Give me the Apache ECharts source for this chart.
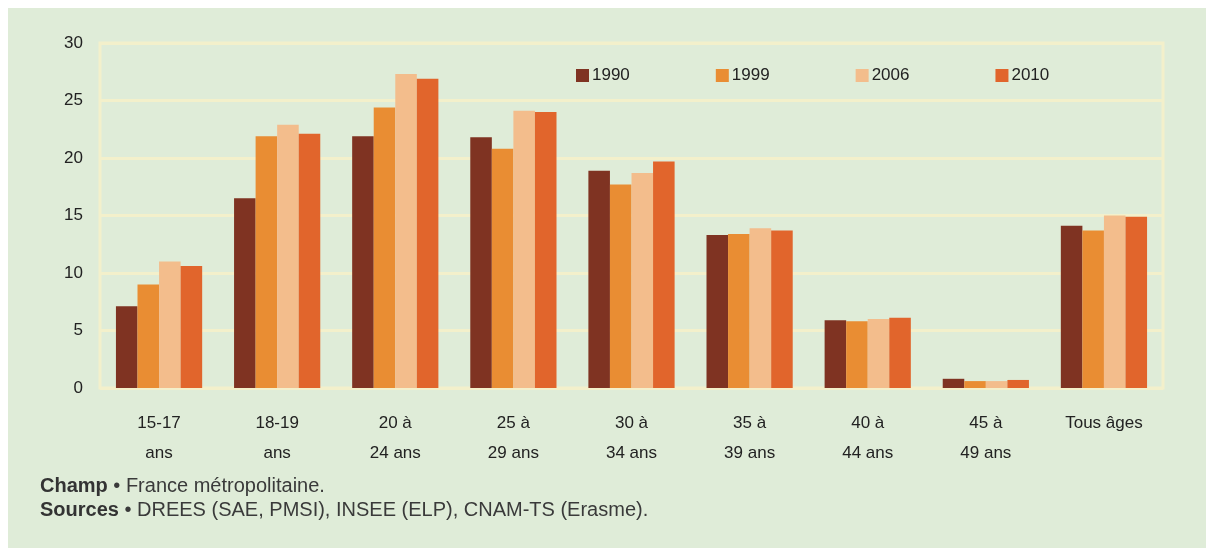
<!DOCTYPE html>
<html>
<head>
<meta charset="utf-8">
<script src="https://cdn.jsdelivr.net/npm/echarts@6/dist/echarts.min.js"></script>
<style>
html,body{margin:0;padding:0;background:#ffffff;}
#chart{width:1206px;height:550px;}
</style>
</head>
<body>
<div id="chart"></div>
<script>
const categories = ['15-17\nans', '18-19\nans', '20 à\n24 ans', '25 à\n29 ans', '30 à\n34 ans', '35 à\n39 ans', '40 à\n44 ans', '45 à\n49 ans', 'Tous âges'];
const seriesNames = ['1990', '1999', '2006', '2010'];
const v1990 = [7.1, 16.5, 21.9, 21.8, 18.9, 13.3, 5.9, 0.8, 14.1];
const v1999 = [9.0, 21.9, 24.4, 20.8, 17.7, 13.4, 5.8, 0.6, 13.7];
const v2006 = [11.0, 22.9, 27.3, 24.1, 18.7, 13.9, 6.0, 0.6, 15.0];
const v2010 = [10.6, 22.1, 26.9, 24.0, 19.7, 13.7, 6.1, 0.7, 14.9];
const yTicks = [0, 5, 10, 15, 20, 25, 30];
const colors = ['#7f3322', '#e98d33', '#f3bd8c', '#e1652c'];
const values = [v1990, v1999, v2006, v2010];

const FONT = "'Liberation Sans Narrow', 'Liberation Sans', Arial, sans-serif";
const grid = '#f3f0cb';
const chart = echarts.init(document.getElementById('chart'), null, {renderer: 'canvas'});
chart.setOption({
  backgroundColor: '#ffffff',
  animation: false,
  color: colors,
  graphic: [
    {type: 'rect', z: -10, shape: {x: 8, y: 8, width: 1198, height: 540}, style: {fill: '#dfecd8'}},
    {type: 'text', left: 40, top: 474, style: {
      text: '{b|Champ} • France métropolitaine.\n{b|Sources} • DREES (SAE, PMSI), INSEE (ELP), CNAM-TS (Erasme).',
      font: "20px 'Liberation Sans', Arial, sans-serif", fill: '#3a3a3a', lineHeight: 24,
      rich: {b: {fontWeight: 'bold', fontSize: 20, fontFamily: "'Liberation Sans', Arial, sans-serif", fill: '#333'}}
    }}
  ],
  legend: {
    data: seriesNames,
    left: 571, top: 62,
    itemWidth: 13, itemHeight: 13, itemGap: 86,
    icon: 'rect',
    textStyle: {fontFamily: FONT, fontSize: 17, color: '#222', padding: [0, 0, 0, -2]}
  },
  grid: {left: 100, right: 43, top: 43, bottom: 162, show: true, borderColor: grid, borderWidth: 3},
  xAxis: {
    type: 'category',
    data: categories,
    axisLine: {show: false},
    axisTick: {show: false},
    axisLabel: {fontFamily: FONT, fontSize: 17, color: '#222', lineHeight: 30, margin: 20}
  },
  yAxis: {
    type: 'value', min: 0, max: 30, interval: 5,
    axisLine: {show: false},
    axisTick: {show: false},
    splitLine: {lineStyle: {color: grid, width: 3}},
    axisLabel: {fontFamily: FONT, fontSize: 17, color: '#222', margin: 17,
      formatter: function (v) { return yTicks.indexOf(v) >= 0 ? String(v) : ''; }}
  },
  series: seriesNames.map((n, i) => ({
    name: n, type: 'bar', data: values[i],
    barGap: '0%', barCategoryGap: '27%'
  }))
});
</script>
</body>
</html>
